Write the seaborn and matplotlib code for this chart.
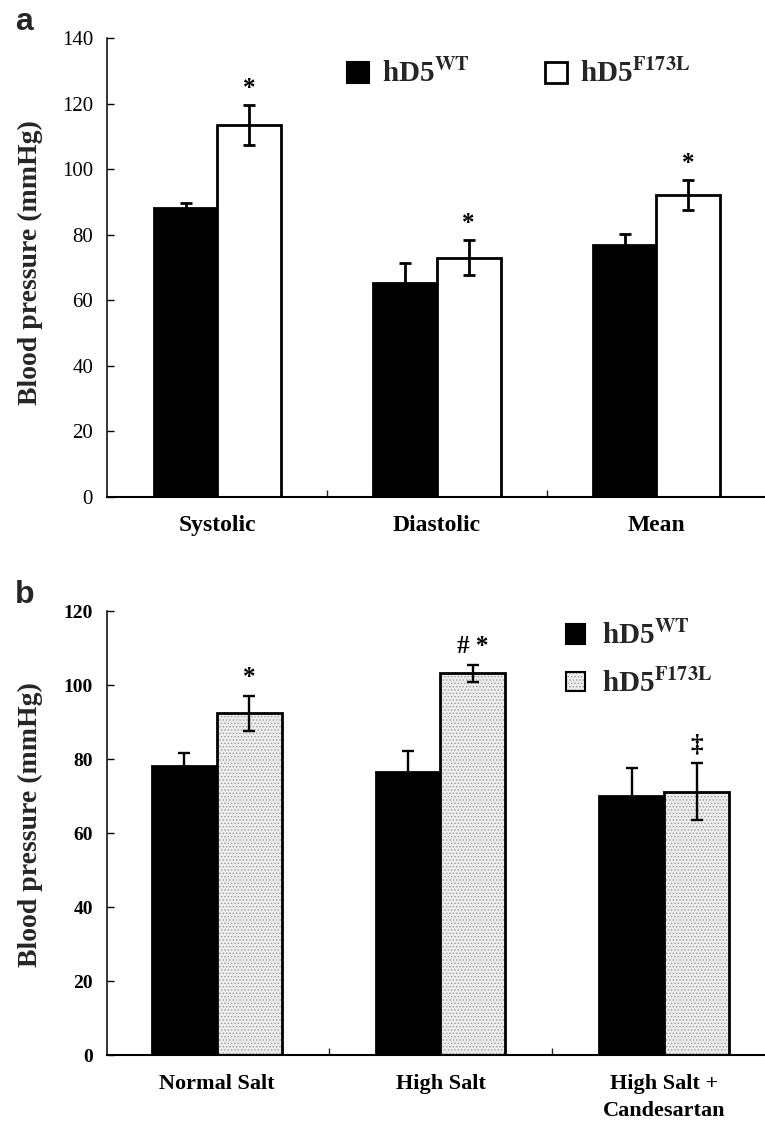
import matplotlib
matplotlib.use('Agg')
import matplotlib.pyplot as plt
import seaborn as sns
import pandas as pd
from matplotlib.patches import Patch
from matplotlib.colors import to_rgba

sns.set_theme(style='white')
plt.rcParams['font.family'] = ['Liberation Serif', 'DejaVu Serif']
plt.rcParams['mathtext.fontset'] = 'stix'
plt.rcParams['hatch.linewidth'] = 0.6

# ---------------- data ----------------
groups = ['hD5WT', 'hD5F173L']
group_labels = [r'hD5$^{\mathbf{WT}}$', r'hD5$^{\mathbf{F173L}}$']

a_categories = ['Systolic', 'Diastolic', 'Mean']
a_wt = [88.0, 65.2, 77.0]
a_wt_err = [1.7, 6.2, 3.3]
a_mut = [113.5, 73.0, 92.1]
a_mut_err = [6.0, 5.4, 4.7]
a_marks = ['*', '*', '*']
a_yticks = [0, 20, 40, 60, 80, 100, 120, 140]

b_categories = ['Normal Salt', 'High Salt', 'High Salt +\nCandesartan']
b_wt = [78.2, 76.4, 70.0]
b_wt_err = [3.4, 5.7, 7.5]
b_mut = [92.3, 103.2, 71.1]
b_mut_err = [4.6, 2.3, 7.7]
b_marks = ['*', '# *', '\u2021']
b_yticks = [0, 20, 40, 60, 80, 100, 120]

DOT_FACE = '#ededed'
DOT_HATCH = '#9a9a9a'

W, H = 765, 1121
fig = plt.figure(figsize=(W / 100, H / 100), dpi=100)
axA = fig.add_axes([107 / W, 1 - 497 / H, 658 / W, (497 - 38) / H])
axB = fig.add_axes([107 / W, 1 - 1055 / H, 658 / W, (1055 - 611) / H])


def set_hatch_color(p, c):
    try:
        p.set_hatchcolor(c)
    except Exception:
        p._hatch_color = to_rgba(c)


def panel(ax, cats, wt, wte, mut, mute, marks, mut_face, dotted, xlim, yticks,
          ytick_weight, ytick_size, xtick_size, err_lw, capsize, mark_off, xpad, ylab_y):
    df = pd.DataFrame({
        'cat': cats + cats,
        'val': wt + mut,
        'grp': [groups[0]] * len(cats) + [groups[1]] * len(cats),
    })
    sns.barplot(data=df, x='cat', y='val', hue='grp', order=cats, hue_order=groups,
                palette={groups[0]: 'black', groups[1]: mut_face}, saturation=1,
                width=0.58, edgecolor='black', linewidth=2, errorbar=None,
                legend=False, ax=ax)
    if dotted:
        for bar in ax.containers[1]:
            bar.set_hatch('.....')
            set_hatch_color(bar, DOT_HATCH)
    for cont, errs in zip(ax.containers, [wte, mute]):
        xs = [b.get_x() + b.get_width() / 2 for b in cont]
        hs = [b.get_height() for b in cont]
        ax.errorbar(xs, hs, yerr=errs, fmt='none', ecolor='black', elinewidth=err_lw,
                    capsize=capsize, capthick=err_lw, zorder=5)
    cont = ax.containers[1]
    for b, e, m in zip(cont, mute, marks):
        x = b.get_x() + b.get_width() / 2
        ax.text(x, b.get_height() + e + mark_off, m, ha='center', va='center',
                fontsize=18, fontweight='bold', color='black')

    ax.set_xlim(*xlim)
    ax.set_ylim(yticks[0], yticks[-1])
    ax.set_yticks(yticks)
    ax.set_yticklabels([str(t) for t in yticks], fontsize=ytick_size, fontweight=ytick_weight)
    ax.set_xticks(range(len(cats)))
    ax.set_xticklabels(cats, fontsize=xtick_size, fontweight='bold', linespacing=1.45)
    ax.set_xticks([0.5, 1.5], minor=True)
    ax.tick_params(axis='x', which='major', length=0, pad=xpad, colors='black')
    ax.tick_params(axis='x', which='minor', direction='in', length=5, width=1, bottom=True)
    ax.tick_params(axis='y', direction='in', length=5, width=1, pad=10, left=True,
                   colors='black')
    ax.set_xlabel('')
    ax.set_ylabel('Blood pressure (mmHg)', fontsize=20, fontweight='bold')
    ax.yaxis.set_label_coords(-0.097, ylab_y)
    for s in ['top', 'right']:
        ax.spines[s].set_visible(False)
    ax.spines['left'].set_linewidth(1.1)
    ax.spines['bottom'].set_linewidth(1.5)
    ax.spines['left'].set_color('black')
    ax.spines['bottom'].set_color('black')
    ax.grid(False)


panel(axA, a_categories, a_wt, a_wt_err, a_mut, a_mut_err, a_marks, 'white', False,
      (-0.503, 2.495), a_yticks, 'normal', 15, 17, 2.0, 4.2, 5.0, 13, 0.51)
panel(axB, b_categories, b_wt, b_wt_err, b_mut, b_mut_err, b_marks, DOT_FACE, True,
      (-0.49, 2.45), b_yticks, 'bold', 14, 16, 1.7, 4.5, 5.0, 14, 0.52)

leg_prop = {'family': 'Liberation Serif', 'weight': 'bold', 'size': 21}
hA = [Patch(facecolor='black', edgecolor='black', linewidth=1.5),
      Patch(facecolor='white', edgecolor='black', linewidth=2)]
axA.legend(hA, group_labels, ncol=2, frameon=False, loc='upper left',
           bbox_to_anchor=(347 / W, 1 - 60 / H), bbox_transform=fig.transFigure,
           prop=leg_prop, handlelength=0.75, handleheight=0.75, handletextpad=0.45,
           columnspacing=2.6, borderpad=0, borderaxespad=0)

pb = Patch(facecolor=DOT_FACE, edgecolor='black', linewidth=1.5, hatch='.....')
hB = [Patch(facecolor='black', edgecolor='black', linewidth=1.5), pb]
legB = axB.legend(hB, group_labels, ncol=1, frameon=False, loc='upper left',
                  bbox_to_anchor=(566 / W, 1 - 622 / H), bbox_transform=fig.transFigure,
                  prop=leg_prop, handlelength=0.65, handleheight=0.65, handletextpad=0.6,
                  labelspacing=0.65, borderpad=0, borderaxespad=0)
for p in legB.get_patches():
    if p.get_hatch():
        set_hatch_color(p, DOT_HATCH)

fig.text(15 / W, 1 - 30 / H, 'a', fontsize=23, fontweight='bold',
         family=['Liberation Sans', 'DejaVu Sans'], va='baseline', ha='left')
fig.text(15 / W, 1 - 603 / H, 'b', fontsize=23, fontweight='bold',
         family=['Liberation Sans', 'DejaVu Sans'], va='baseline', ha='left')

fig.savefig('out.png', dpi=100, facecolor='white')
